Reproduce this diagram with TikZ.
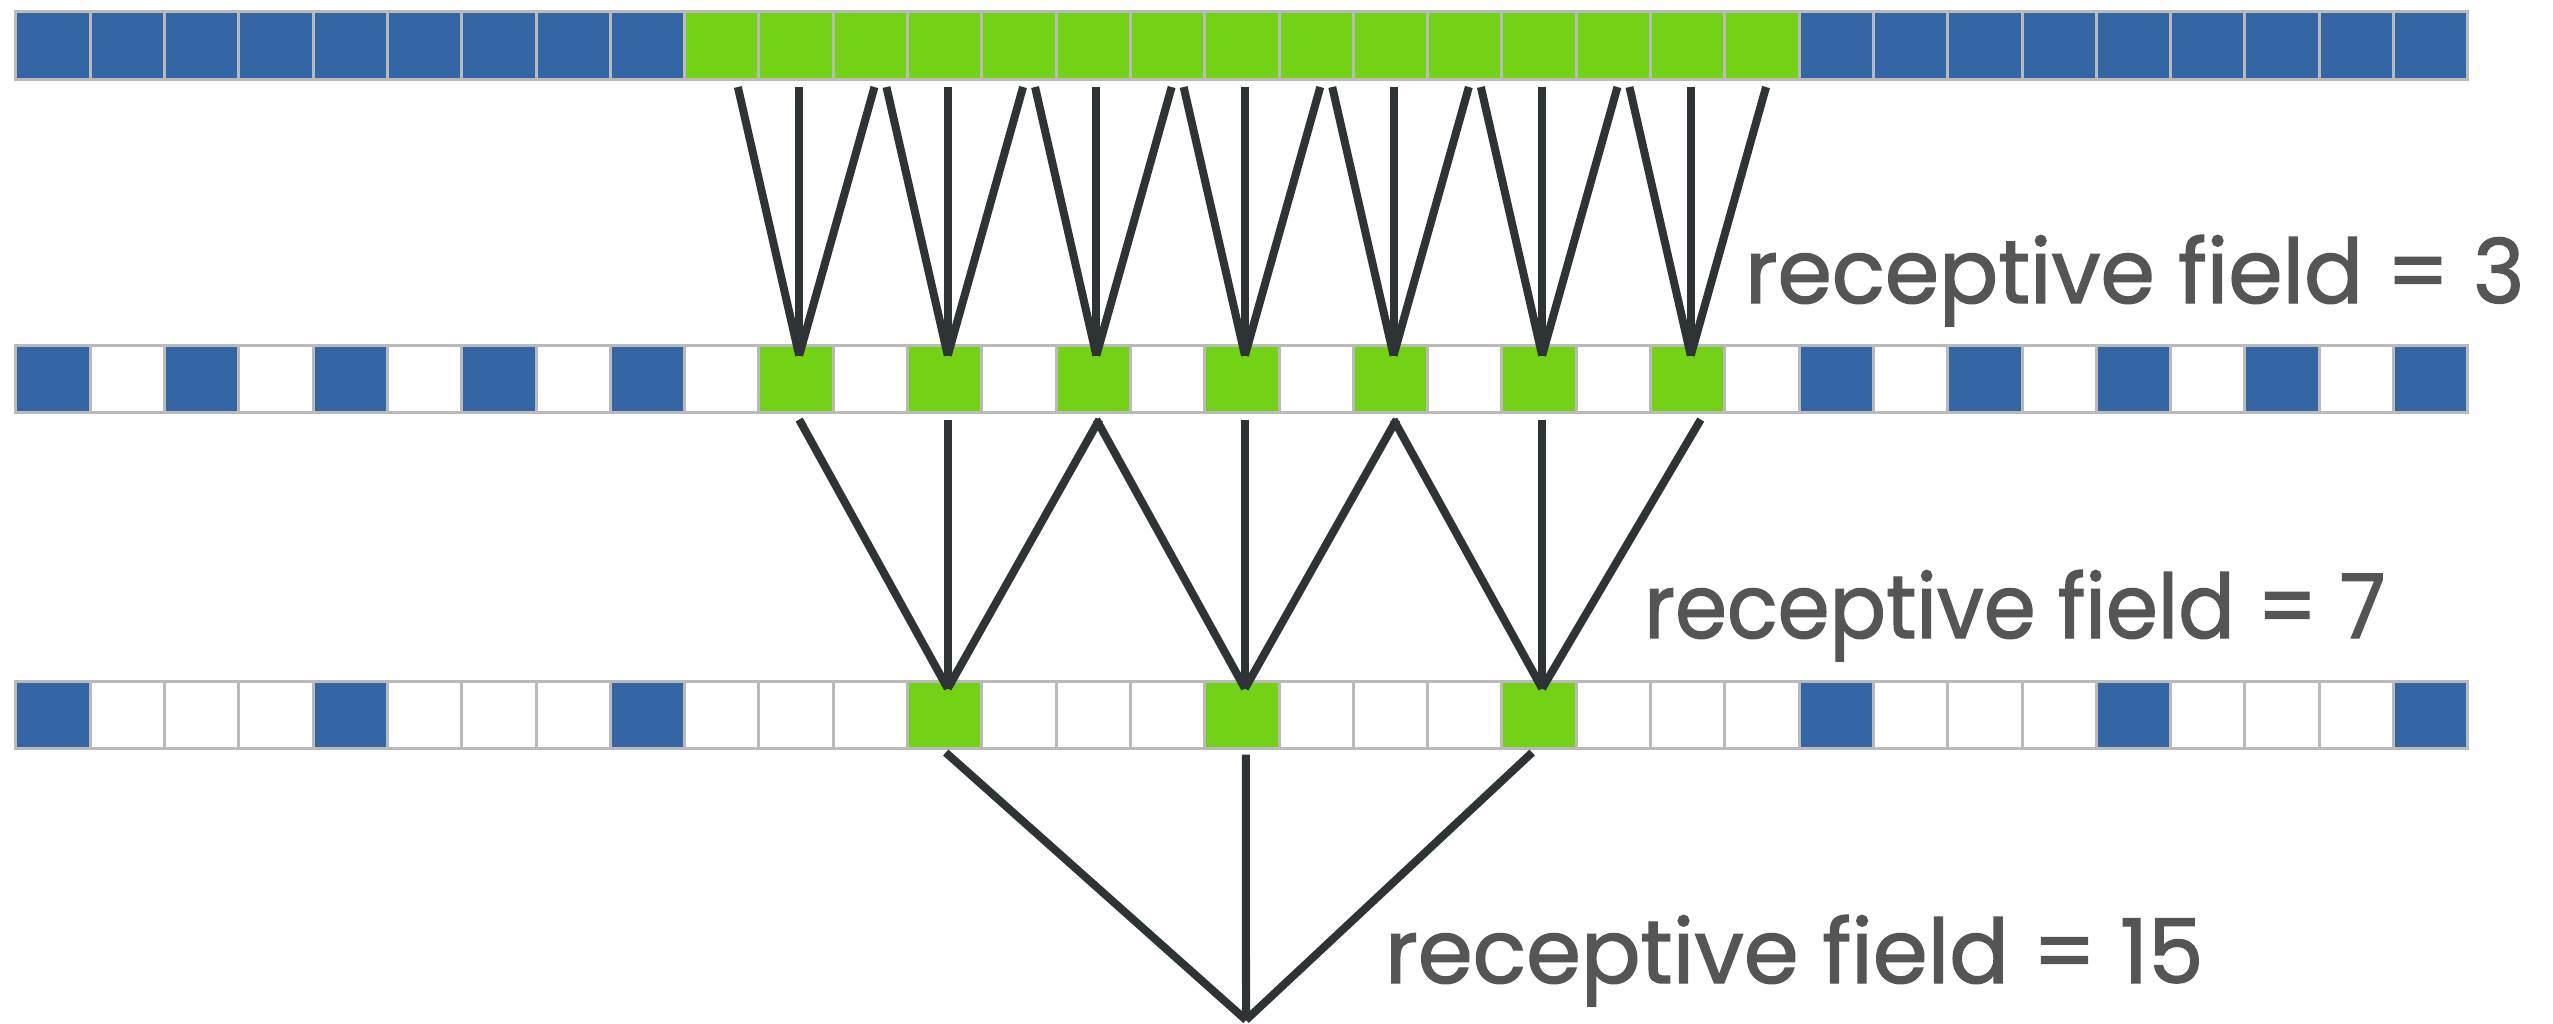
\documentclass[tikz,border=0pt]{standalone}
\usepackage{fontspec}
\setmainfont{Poppins}
\newfontfamily\lblfont{Poppins}[FakeBold=1.5]
\usepackage{graphicx}
\definecolor{cblue}{HTML}{3465A4}
\definecolor{cgreen}{HTML}{73D216}
\definecolor{cgray}{HTML}{BABABA}
\definecolor{cline}{HTML}{2E3436}
\definecolor{ctext}{HTML}{555555}
\tikzset{
  cell/.style={rectangle, draw=cgray, line width=0.03cm, minimum width=0.743cm,
    minimum height=0.67cm, inner sep=0pt, outer sep=0pt},
  conn/.style={draw=cline, line width=0.08cm},
  lbl/.style={text=ctext, inner sep=0pt, outer sep=0pt, anchor=base west, font=\lblfont}
}
\begin{document}
\begin{tikzpicture}[x=0.01cm, y=-0.01cm]
\useasboundingbox (0,0) rectangle (2553,1023);
% cells
\foreach \i in {0,...,32} {
  \pgfmathtruncatemacro\inside{and(\i>8,\i<24)}
  \pgfmathtruncatemacro\evn{mod(\i,2)==0}
  \pgfmathtruncatemacro\four{mod(\i,4)==0}
  \ifnum\inside=1 \def\ca{cgreen}\else\def\ca{cblue}\fi
  \ifnum\evn=1 \let\cb\ca\else\def\cb{white}\fi
  \ifnum\four=1 \let\cc\ca\else\def\cc{white}\fi
  \node[cell, fill=\ca] (a\i) at ({53.15+74.3*\i}, 45.5) {};
  \node[cell, fill=\cb] (b\i) at ({53.15+74.3*\i}, 379) {};
  \node[cell, fill=\cc] (c\i) at ({53.15+74.3*\i}, 715) {};
}
% layer 1 -> layer 2
\foreach \k in {10,12,...,22} {
  \pgfmathtruncatemacro\km{\k-1}
  \pgfmathtruncatemacro\kp{\k+1}
  \coordinate (v\k) at ([xshift=0.03cm,yshift=-0.10cm]b\k.north);
  \draw[conn] ([xshift=0.16cm,yshift=-0.08cm]a\km.south) -- (v\k);
  \draw[conn] ([xshift=0.03cm,yshift=-0.08cm]a\k.south) -- (v\k);
  \draw[conn] ([xshift=0.04cm,yshift=-0.08cm]a\kp.south) -- (v\k);
}
% layer 2 -> layer 3
\foreach \k/\rs in {12/0.06cm,16/0.06cm,20/0.13cm} {
  \pgfmathtruncatemacro\km{\k-2}
  \pgfmathtruncatemacro\kp{\k+2}
  \coordinate (w\k) at ([xshift=0.03cm,yshift=-0.07cm]c\k.north);
  \draw[conn] ([xshift=0.03cm,yshift=-0.07cm]b\km.south) -- (w\k);
  \draw[conn] ([xshift=0.03cm,yshift=-0.07cm]b\k.south) -- (w\k);
  \draw[conn] ([xshift=\rs,yshift=-0.07cm]b\kp.south) -- (w\k);
}
% layer 3 -> output
\coordinate (z) at (1246,1020);
\draw[conn] ([xshift=0.01cm,yshift=-0.04cm]c12.south) -- (z);
\draw[conn] ([xshift=0.04cm,yshift=-0.06cm]c16.south) -- (z);
\draw[conn] ([xshift=-0.07cm,yshift=-0.04cm]c20.south) -- (z);
% labels
\node[lbl] (t1) at (1745,303) {\resizebox{7.79cm}{0.68cm}{receptive field = 3}};
\node[lbl] (t2) at (1644,638) {\resizebox{7.41cm}{0.68cm}{receptive field = 7}};
\node[lbl] (t3) at (1385,983) {\resizebox{8.18cm}{0.68cm}{receptive field = 15}};
\end{tikzpicture}
\end{document}
